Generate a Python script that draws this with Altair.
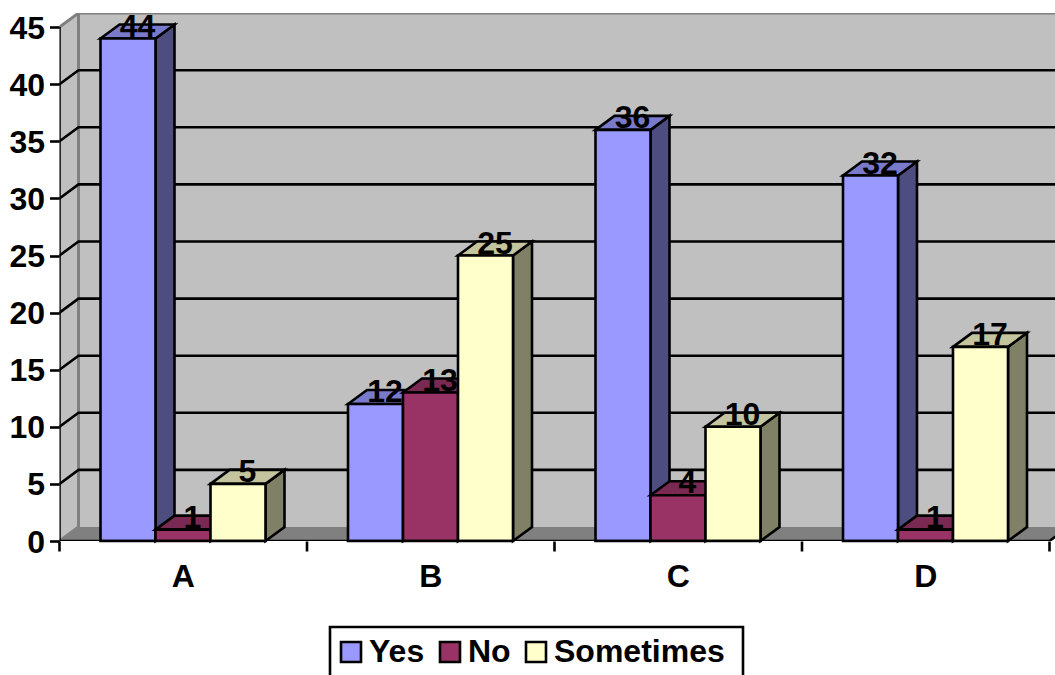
import altair as alt
import pandas as pd

# Survey answers per question
categories = ["A", "B", "C", "D"]
series_names = ["Yes", "No", "Sometimes"]
yes_values = [44, 12, 36, 32]
no_values = [1, 13, 4, 1]
sometimes_values = [5, 25, 10, 17]
y_ticks = [0, 5, 10, 15, 20, 25, 30, 35, 40, 45]
x_ticks = [0, 1, 2, 3, 4]

front_colors = ["#9999FF", "#993366", "#FFFFCC"]
top_colors = ["#7A7ACC", "#7A2952", "#C4C49F"]
side_colors = ["#4D4D80", "#4D1A33", "#808066"]

FONT = "Liberation Sans"
FONT_SIZE = 32
LINE = 2.6
PLOT_W = 995.5
PLOT_H = 528
BAND_PX = 247.5
UNIT_PX = 11.42

# Depth of the oblique projection, expressed in axis units
DX = 19 / BAND_PX
DY = 14 / UNIT_PX
BAR_W = 55 / BAND_PX
GROUP_LEFT = 41 / BAND_PX
X_MAX = PLOT_W / BAND_PX
Y_MAX = PLOT_H / UNIT_PX
Y_END = 45

x_enc = alt.X(
    "x:Q",
    scale=alt.Scale(domain=[0, X_MAX], nice=False, zero=False),
    axis=alt.Axis(
        values=x_ticks, title=None, domain=False, grid=False, labels=False,
        tickSize=10, tickWidth=LINE, tickColor="black", tickRound=False, tickOffset=-0.5,
    ),
)
y_enc = alt.Y(
    "y:Q",
    scale=alt.Scale(domain=[0, Y_MAX], nice=False, zero=False),
    axis=alt.Axis(
        values=y_ticks, title=None, domain=False, grid=False,
        tickSize=10, tickWidth=LINE, tickColor="black",
        labelFont=FONT, labelFontSize=FONT_SIZE, labelFontWeight="bold",
        labelColor="black", labelPadding=5, labelOffset=1,
    ),
)


def area_layer(rows, fill, stroke=None, stroke_width=0, clip=True):
    mark = dict(fill=fill, clip=clip, opacity=1)
    if stroke:
        mark.update(stroke=stroke, strokeWidth=stroke_width, strokeJoin="miter")
    return alt.Chart(pd.DataFrame(rows)).mark_area(**mark).encode(
        x=x_enc, y=y_enc, y2="y2:Q", detail="id:N"
    )


def line_layer(rows, color, width, clip=True):
    return alt.Chart(pd.DataFrame(rows)).mark_line(
        color=color, strokeWidth=width, clip=clip, strokeCap="butt"
    ).encode(x=x_enc, y=y_enc, detail="id:N", order="o:Q")


def poly(key, pts):
    return [dict(id=key, x=a, y=b, y2=c) for a, b, c in pts]


def path(key, pts):
    return [dict(id=key, o=i, x=a, y=b) for i, (a, b) in enumerate(pts)]


layers = []

# Back wall, side wall and floor
layers.append(area_layer(poly("back", [(DX, Y_MAX, DY), (X_MAX, Y_MAX, DY)]), "#C0C0C0"))
layers.append(area_layer(poly("left", [(0, Y_END, 0), (DX, Y_END + DY, DY)]), "#C0C0C0"))
layers.append(area_layer(
    poly("floor", [(0, 0, 0), (DX, DY, 0), (4, DY, 0), (4 + DX, DY, DY)]), "#808080"
))

# Wall edges
layers.append(line_layer(
    path("edge", [(0, Y_END), (DX, Y_END + DY), (X_MAX, Y_END + DY)])
    + path("corner", [(DX, Y_END + DY), (DX, DY)])
    + path("floor-edge", [(0, 0), (DX, DY)]),
    "#808080", 3,
))

# Gridlines bend around the corner of the walls
grid_rows = []
for v in y_ticks[1:-1]:
    grid_rows += path(f"g{v}", [(0, v), (DX, v + DY), (X_MAX, v + DY)])
layers.append(line_layer(grid_rows, "black", LINE))

# Bars: each series is drawn after the previous one so it covers its neighbour
values_by_series = [yes_values, no_values, sometimes_values]
for s, (name, vals) in enumerate(zip(series_names, values_by_series)):
    side, top, front = [], [], []
    for c, v in enumerate(vals):
        left = c + GROUP_LEFT + s * BAR_W
        right = left + BAR_W
        side += poly(f"s{c}", [(right, v, 0), (right + DX, v + DY, DY)])
        top += poly(f"t{c}", [(left, v, v), (left + DX, v + DY, v), (right, v + DY, v), (right + DX, v + DY, v + DY)])
        front.append(dict(x=left, x2=right, y=v, y2=0, series=name))
    layers.append(area_layer(side, side_colors[s], "black", LINE, clip=False))
    layers.append(area_layer(top, top_colors[s], "black", LINE, clip=False))
    layers.append(
        alt.Chart(pd.DataFrame(front))
        .mark_rect(stroke="black", strokeWidth=LINE)
        .encode(
            x=x_enc,
            x2="x2:Q",
            y=y_enc,
            y2="y2:Q",
            color=alt.Color(
                "series:N",
                scale=alt.Scale(domain=series_names, range=front_colors),
                legend=alt.Legend(
                    title=None,
                    orient="none",
                    direction="horizontal",
                    legendX=326 - 59.5,
                    legendY=627 - 13,
                    padding=9,
                    columnPadding=9,
                    labelFont=FONT,
                    labelFontSize=FONT_SIZE,
                    labelFontWeight="bold",
                    labelColor="black",
                    labelOffset=2,
                    labelLimit=400,
                    symbolType="square",
                    symbolSize=400,
                    symbolStrokeColor="black",
                    symbolStrokeWidth=LINE,
                ),
            ),
        )
    )

# Front axis lines
axis_rows = path("yaxis", [(0, 0), (0, Y_END)]) + path("xaxis", [(0, 0), (4, 0), (4 + DX, DY)])
layers.append(line_layer(axis_rows, "black", LINE, clip=True))

# Frame around the legend, open past the bottom edge of the page
layers.append(
    alt.Chart(pd.DataFrame({"k": [0]}))
    .mark_rect(fillOpacity=0, stroke="black", strokeWidth=LINE, clip=False)
    .encode(
        x=alt.value(330 - 59.5),
        x2=alt.value(743 - 59.5),
        y=alt.value(627 - 13),
        y2=alt.value(690 - 13),
    )
)

# Category names below the axis
cat_df = pd.DataFrame({"x": [i + 0.5 for i in range(len(categories))], "label": categories})
layers.append(
    alt.Chart(cat_df)
    .mark_text(font=FONT, fontSize=FONT_SIZE, fontWeight="bold", color="black", baseline="alphabetic")
    .encode(x=x_enc, y=alt.value(PLOT_H + 46), text="label:N")
)

# Value labels above each bar
label_rows = []
for s, vals in enumerate(values_by_series):
    for c, v in enumerate(vals):
        label_rows.append(dict(x=c + GROUP_LEFT + (s + 0.5) * BAR_W + DX / 2, y=v, label=str(v)))
layers.append(
    alt.Chart(pd.DataFrame(label_rows))
    .mark_text(font=FONT, fontSize=FONT_SIZE, fontWeight="bold", color="black", baseline="alphabetic", dy=-2)
    .encode(x=x_enc, y=y_enc, text="label:N")
)

chart = (
    alt.layer(*layers)
    .properties(
        width=PLOT_W,
        height=PLOT_H,
        autosize=alt.AutoSizeParams(type="none"),
        padding={"left": 59.5, "top": 13, "right": 0, "bottom": 134},
        background="white",
    )
    .configure_view(stroke=None)
)

chart.save("out.html", embed_options={"renderer": "svg", "actions": False})
